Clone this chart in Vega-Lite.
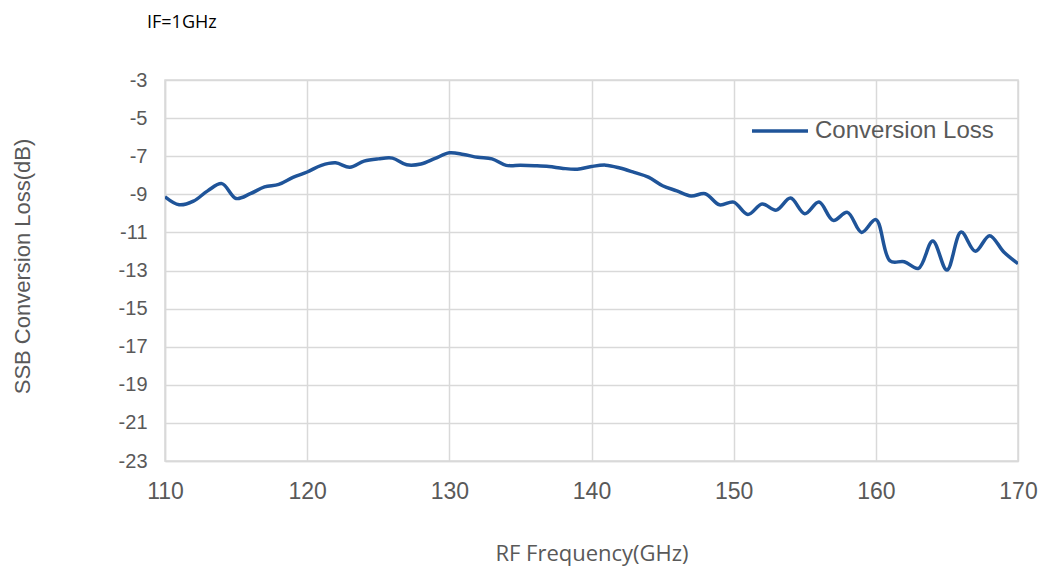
{
  "$schema": "https://vega.github.io/schema/vega-lite/v6.json",
  "width": 853,
  "height": 381,
  "autosize": {"type": "none"},
  "padding": {"left": 165, "top": 80, "right": 25, "bottom": 108},
  "background": "white",
  "title": {
    "text": "IF=1GHz",
    "anchor": "start",
    "frame": "group",
    "dx": -18,
    "offset": 38,
    "font": "Open Sans",
    "fontSize": 18,
    "fontWeight": "normal",
    "color": "#000000"
  },
  "data": {
    "values": [
      {"f": 110, "loss": -9.13, "s": "Conversion Loss"},
      {"f": 111, "loss": -9.55, "s": "Conversion Loss"},
      {"f": 112, "loss": -9.36, "s": "Conversion Loss"},
      {"f": 113, "loss": -8.82, "s": "Conversion Loss"},
      {"f": 114, "loss": -8.44, "s": "Conversion Loss"},
      {"f": 115, "loss": -9.22, "s": "Conversion Loss"},
      {"f": 116, "loss": -8.97, "s": "Conversion Loss"},
      {"f": 117, "loss": -8.61, "s": "Conversion Loss"},
      {"f": 118, "loss": -8.48, "s": "Conversion Loss"},
      {"f": 119, "loss": -8.11, "s": "Conversion Loss"},
      {"f": 120, "loss": -7.83, "s": "Conversion Loss"},
      {"f": 121, "loss": -7.48, "s": "Conversion Loss"},
      {"f": 122, "loss": -7.35, "s": "Conversion Loss"},
      {"f": 123, "loss": -7.58, "s": "Conversion Loss"},
      {"f": 124, "loss": -7.26, "s": "Conversion Loss"},
      {"f": 125, "loss": -7.14, "s": "Conversion Loss"},
      {"f": 126, "loss": -7.10, "s": "Conversion Loss"},
      {"f": 127, "loss": -7.45, "s": "Conversion Loss"},
      {"f": 128, "loss": -7.41, "s": "Conversion Loss"},
      {"f": 129, "loss": -7.12, "s": "Conversion Loss"},
      {"f": 130, "loss": -6.82, "s": "Conversion Loss"},
      {"f": 131, "loss": -6.91, "s": "Conversion Loss"},
      {"f": 132, "loss": -7.06, "s": "Conversion Loss"},
      {"f": 133, "loss": -7.14, "s": "Conversion Loss"},
      {"f": 134, "loss": -7.48, "s": "Conversion Loss"},
      {"f": 135, "loss": -7.48, "s": "Conversion Loss"},
      {"f": 136, "loss": -7.50, "s": "Conversion Loss"},
      {"f": 137, "loss": -7.54, "s": "Conversion Loss"},
      {"f": 138, "loss": -7.64, "s": "Conversion Loss"},
      {"f": 139, "loss": -7.68, "s": "Conversion Loss"},
      {"f": 140, "loss": -7.54, "s": "Conversion Loss"},
      {"f": 141, "loss": -7.47, "s": "Conversion Loss"},
      {"f": 142, "loss": -7.62, "s": "Conversion Loss"},
      {"f": 143, "loss": -7.85, "s": "Conversion Loss"},
      {"f": 144, "loss": -8.10, "s": "Conversion Loss"},
      {"f": 145, "loss": -8.55, "s": "Conversion Loss"},
      {"f": 146, "loss": -8.82, "s": "Conversion Loss"},
      {"f": 147, "loss": -9.09, "s": "Conversion Loss"},
      {"f": 148, "loss": -8.97, "s": "Conversion Loss"},
      {"f": 149, "loss": -9.55, "s": "Conversion Loss"},
      {"f": 150, "loss": -9.41, "s": "Conversion Loss"},
      {"f": 151, "loss": -10.06, "s": "Conversion Loss"},
      {"f": 152, "loss": -9.51, "s": "Conversion Loss"},
      {"f": 153, "loss": -9.83, "s": "Conversion Loss"},
      {"f": 154, "loss": -9.20, "s": "Conversion Loss"},
      {"f": 155, "loss": -10.02, "s": "Conversion Loss"},
      {"f": 156, "loss": -9.41, "s": "Conversion Loss"},
      {"f": 157, "loss": -10.37, "s": "Conversion Loss"},
      {"f": 158, "loss": -9.95, "s": "Conversion Loss"},
      {"f": 159, "loss": -11.00, "s": "Conversion Loss"},
      {"f": 160, "loss": -10.33, "s": "Conversion Loss"},
      {"f": 161, "loss": -12.50, "s": "Conversion Loss"},
      {"f": 162, "loss": -12.54, "s": "Conversion Loss"},
      {"f": 163, "loss": -12.89, "s": "Conversion Loss"},
      {"f": 164, "loss": -11.45, "s": "Conversion Loss"},
      {"f": 165, "loss": -12.98, "s": "Conversion Loss"},
      {"f": 166, "loss": -10.98, "s": "Conversion Loss"},
      {"f": 167, "loss": -11.99, "s": "Conversion Loss"},
      {"f": 168, "loss": -11.17, "s": "Conversion Loss"},
      {"f": 169, "loss": -12.03, "s": "Conversion Loss"},
      {"f": 170, "loss": -12.64, "s": "Conversion Loss"}
    ]
  },
  "mark": {"type": "line", "interpolate": "catmull-rom", "strokeWidth": 3.5, "clip": true},
  "encoding": {
    "x": {
      "field": "f",
      "type": "quantitative",
      "scale": {"domain": [110, 170], "nice": false, "zero": false},
      "axis": {
        "title": "RF Frequency(GHz)",
        "values": [110, 120, 130, 140, 150, 160, 170],
        "labelExpr": "'' + datum.value",
        "grid": true,
        "gridColor": "#d9d9d9",
        "gridWidth": 1.5,
        "domain": true,
        "domainColor": "#d9d9d9",
        "domainWidth": 1.5,
        "ticks": false,
        "labelPadding": 19,
        "labelFont": "Liberation Sans",
        "labelFontSize": 23,
        "labelColor": "#595959",
        "labelFlush": false,
        "titleFont": "Open Sans",
        "titleFontSize": 22,
        "titleFontWeight": "normal",
        "titleColor": "#595959",
        "titleBaseline": "middle",
        "titleY": 92
      }
    },
    "y": {
      "field": "loss",
      "type": "quantitative",
      "scale": {"domain": [-23, -3], "nice": false, "zero": false},
      "axis": {
        "title": "SSB Conversion Loss(dB)",
        "values": [-3, -5, -7, -9, -11, -13, -15, -17, -19, -21, -23],
        "labelExpr": "'' + datum.value",
        "grid": true,
        "gridColor": "#d9d9d9",
        "gridWidth": 1.5,
        "domain": true,
        "domainColor": "#d9d9d9",
        "domainWidth": 1.5,
        "ticks": false,
        "labelPadding": 18,
        "labelFont": "Liberation Sans",
        "labelFontSize": 20,
        "labelColor": "#595959",
        "labelFlush": false,
        "titleFont": "Liberation Sans",
        "titleFontSize": 22,
        "titleFontWeight": "normal",
        "titleColor": "#595959",
        "titleX": -143,
        "titleY": 186,
        "titleBaseline": "middle",
        "titleAngle": -90
      }
    },
    "color": {
      "field": "s",
      "type": "nominal",
      "scale": {"range": ["#1f5499"]},
      "legend": {
        "title": null,
        "orient": "none",
        "legendX": 585,
        "legendY": 21,
        "symbolType": "stroke",
        "symbolSize": 3136,
        "symbolStrokeWidth": 3.5,
        "labelFont": "Liberation Sans",
        "labelFontSize": 24,
        "labelLimit": 400,
        "labelColor": "#595959",
        "labelOffset": 5
      }
    }
  },
  "config": {"view": {"stroke": "#d9d9d9", "strokeWidth": 1.5}}
}
